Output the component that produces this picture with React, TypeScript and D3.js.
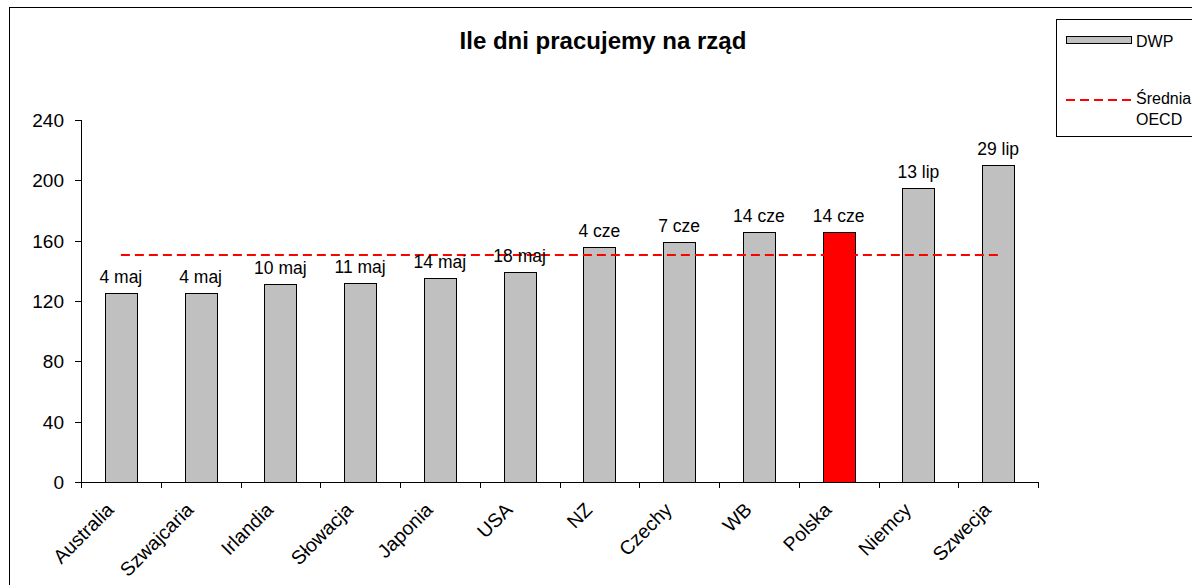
import React from "react";
import * as d3 from "d3";

const categories = ["Australia", "Szwajcaria", "Irlandia", "Słowacja", "Japonia", "USA", "NZ", "Czechy", "WB", "Polska", "Niemcy", "Szwecja"];
const dwpValues = [125, 125, 131, 132, 135, 139, 156, 159, 166, 166, 195, 210];
const dateLabels = ["4 maj", "4 maj", "10 maj", "11 maj", "14 maj", "18 maj", "4 cze", "7 cze", "14 cze", "14 cze", "13 lip", "29 lip"];
const oecdAverage = 150.5;
const yTicks = [0, 40, 80, 120, 160, 200, 240];
const highlighted = "Polska";

const W = 1192, H = 585;
const plotLeft = 81, plotRight = 1038, plotTop = 120, plotBottom = 482;
const FONT = "'Liberation Sans', Arial, sans-serif";

export default function App() {
  const x = d3.scaleBand<string>().domain(categories).range([plotLeft, plotRight]).paddingInner(0.6).paddingOuter(0.3);
  const xb = d3.scaleBand<string>().domain(categories).range([plotLeft, plotRight]);
  const y = d3.scaleLinear().domain([0, 240]).range([plotBottom, plotTop]);
  const bw = x.bandwidth();
  const centers = categories.map((c) => (xb(c) as number) + xb.bandwidth() / 2);
  const avgY = y(oecdAverage);

  return (
    <svg width={W} height={H} style={{ position: "absolute", left: 0, top: 0 }} fontFamily={FONT}>
      <rect x={0} y={0} width={W} height={H} fill="#fff" />
      <rect x={9.5} y={7.5} width={W} height={H} fill="none" stroke="#000" strokeWidth={1} />
      <text x={603} y={49} textAnchor="middle" fontSize={24} fontWeight="bold">Ile dni pracujemy na rząd</text>

      {/* y axis */}
      <line x1={plotLeft + 0.5} x2={plotLeft + 0.5} y1={plotTop} y2={plotBottom} stroke="#000" />
      {yTicks.map((t) => (
        <g key={t}>
          <line x1={plotLeft - 6} x2={plotLeft} y1={Math.round(y(t)) + 0.5} y2={Math.round(y(t)) + 0.5} stroke="#000" />
          <text x={64} y={y(t)} dy="0.36em" textAnchor="end" fontSize={19}>{t}</text>
        </g>
      ))}

      {/* x axis */}
      <line x1={plotLeft} x2={plotRight} y1={plotBottom + 0.5} y2={plotBottom + 0.5} stroke="#000" />
      {categories.concat(["_end"]).map((c, i) => {
        const tx = Math.round(plotLeft + i * xb.step()) + 0.5;
        return <line key={"t" + i} x1={tx} x2={tx} y1={plotBottom} y2={plotBottom + 6} stroke="#000" />;
      })}

      {/* bars */}
      {categories.map((c, i) => (
        <rect
          key={c}
          x={Math.round(x(c) as number) + 0.5}
          y={Math.round(y(dwpValues[i])) + 0.5}
          width={Math.round(bw)}
          height={Math.round(plotBottom - y(dwpValues[i]))}
          fill={c === highlighted ? "#FF0000" : "#C0C0C0"}
          stroke="#000"
          strokeWidth={1}
        />
      ))}

      {/* average line */}
      <line x1={centers[0]} x2={centers[centers.length - 1]} y1={avgY} y2={avgY} stroke="#FF0000" strokeWidth={2} strokeDasharray="9,5" />

      {/* value labels */}
      {categories.map((c, i) => (
        <text key={"l" + c} x={centers[i]} y={y(dwpValues[i]) - 10} textAnchor="middle" fontSize={17.5}>{dateLabels[i]}</text>
      ))}

      {/* category labels */}
      {categories.map((c, i) => (
        <text key={"c" + c} transform={`translate(${centers[i] - 6},${plotBottom + 29}) rotate(-45)`} textAnchor="end" fontSize={19.5}>{c}</text>
      ))}

      {/* legend */}
      <rect x={1056.5} y={19.5} width={200} height={117} fill="#fff" stroke="#000" />
      <rect x={1066.5} y={36.5} width={65} height={7} fill="#C0C0C0" stroke="#000" />
      <text x={1136} y={46.5} fontSize={16}>DWP</text>
      <line x1={1066} x2={1132} y1={100} y2={100} stroke="#FF0000" strokeWidth={2} strokeDasharray="9,5" />
      <text x={1136} y={104} fontSize={16}>Średnia</text>
      <text x={1136} y={125} fontSize={16}>OECD</text>
    </svg>
  );
}
